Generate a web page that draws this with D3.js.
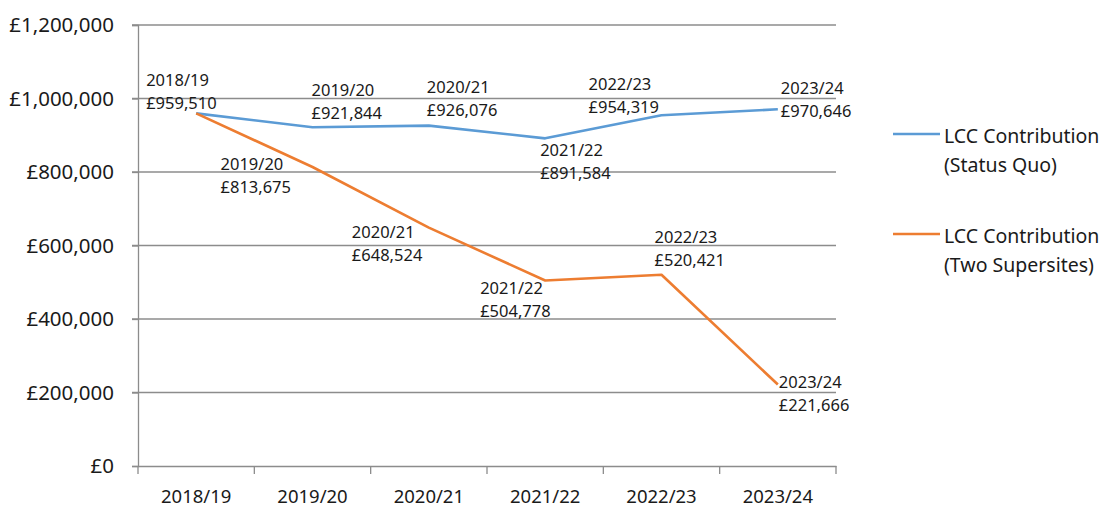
<!DOCTYPE html>
<html lang="en">
<head>
	<meta charset="utf-8">
	<title>LCC Contribution</title>
	<script src="https://cdn.jsdelivr.net/npm/d3@7"></script>
	<style>
		body { margin: 0; background: #fff; }
		svg text { font-family: "Noto Sans", "Open Sans", sans-serif; fill: #1a1a1a; }
	</style>
</head>
<body>
	<svg id="chart"></svg>
	<script>
		const years = ["2018/19", "2019/20", "2020/21", "2021/22", "2022/23", "2023/24"];
		const statusQuo = [959510, 921844, 926076, 891584, 954319, 970646];
		const supersites = [959510, 813675, 648524, 504778, 520421, 221666];
		const yTicks = [0, 200000, 400000, 600000, 800000, 1000000, 1200000];
		const seriesNames = [["LCC Contribution", "(Status Quo)"], ["LCC Contribution", "(Two Supersites)"]];
		const colors = ["#5b9bd5", "#ed7d31"];

		// where each data label sits relative to its point (left edge, first line)
		const labelOffsets = [
			[[-50, -33], [-1, -37], [-2, -38], [-5, 12], [-73, -31], [3, -21]],
			[null, [-92, -3], [-77, 5], [-65, 8], [-7, -38], [1, -2]]
		];

		const W = 1108, H = 509;
		const m = { top: 25, right: 272, bottom: 43, left: 138 };

		const svg = d3.select("#chart").attr("width", W).attr("height", H);

		const x = d3.scaleBand().domain(years).range([m.left, W - m.right]);
		const y = d3.scaleLinear().domain([0, 1200000]).range([H - m.bottom, m.top]);
		const cx = d => x(d) + x.bandwidth() / 2;

		// gridlines
		svg.append("g")
			.selectAll("line")
			.data(yTicks.slice(1))
			.join("line")
			.attr("x1", m.left - 6).attr("x2", W - m.right)
			.attr("y1", d => y(d)).attr("y2", d => y(d))
			.attr("stroke", "#8c8c8c").attr("stroke-width", 1.3);

		// y axis
		const yAxis = svg.append("g")
			.attr("transform", `translate(${m.left},0)`)
			.call(d3.axisLeft(y).tickValues(yTicks).tickSize(6).tickPadding(18)
				.tickFormat(d => "£" + d3.format(",")(d)));
		yAxis.select(".domain").attr("stroke", "#8c8c8c").attr("stroke-width", 1.3);
		yAxis.selectAll(".tick line").attr("stroke", "#8c8c8c").attr("stroke-width", 1.3);
		yAxis.selectAll(".tick text").attr("font-size", 20.5).attr("fill", "#1a1a1a");

		// x axis
		const xAxis = svg.append("g")
			.attr("transform", `translate(0,${y(0)})`)
			.call(d3.axisBottom(x).tickSize(0).tickPadding(24));
		xAxis.select(".domain").attr("stroke", "#8c8c8c").attr("stroke-width", 1.3);
		xAxis.selectAll(".tick text").attr("font-size", 18.5).attr("fill", "#1a1a1a");
		xAxis.append("g")
			.selectAll("line")
			.data(years.map(d => x(d)).concat([x.range()[1]]))
			.join("line")
			.attr("x1", d => d).attr("x2", d => d)
			.attr("y1", 0).attr("y2", 8)
			.attr("stroke", "#8c8c8c").attr("stroke-width", 1.3);

		// lines
		const line = d3.line().x((d, i) => cx(years[i])).y(d => y(d));
		[statusQuo, supersites].forEach((s, k) => {
			svg.append("path")
				.datum(s)
				.attr("d", line)
				.attr("fill", "none")
				.attr("stroke", colors[k])
				.attr("stroke-width", 2.6)
				.attr("stroke-linejoin", "round");
		});

		// data labels
		[statusQuo, supersites].forEach((s, k) => {
			s.forEach((v, i) => {
				const off = labelOffsets[k][i];
				if (!off) return;
				const t = svg.append("text")
					.attr("x", cx(years[i]) + off[0])
					.attr("y", y(v) + off[1])
					.attr("font-size", 16.5);
				t.append("tspan").attr("x", cx(years[i]) + off[0]).attr("dy", "0.35em").text(years[i]);
				t.append("tspan").attr("x", cx(years[i]) + off[0]).attr("dy", 23).text("£" + d3.format(",")(v));
			});
		});

		// legend
		const legend = svg.append("g").attr("transform", "translate(893,134)");
		seriesNames.forEach((nm, k) => {
			const g = legend.append("g").attr("transform", `translate(0,${k * 100})`);
			g.append("line").attr("x1", 0).attr("x2", 47).attr("y1", 0).attr("y2", 0)
				.attr("stroke", colors[k]).attr("stroke-width", 2.6);
			const t = g.append("text").attr("x", 51).attr("y", 2).attr("font-size", 19.5);
			t.append("tspan").attr("x", 51).attr("dy", "0.35em").text(nm[0]);
			t.append("tspan").attr("x", 51).attr("dy", 29).text(nm[1]);
		});
	</script>
</body>
</html>
